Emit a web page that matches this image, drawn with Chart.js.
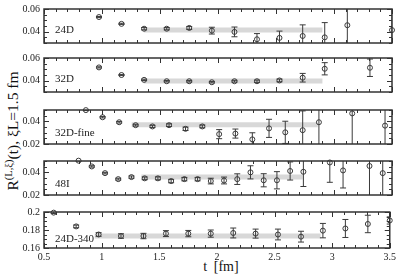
<!DOCTYPE html>
<html>
<head>
<meta charset="utf-8">
<script src="https://cdn.jsdelivr.net/npm/chart.js@4/dist/chart.umd.min.js"></script>
<style>
  body { margin: 0; background: #fff; width: 399px; height: 276px; position: relative; overflow: hidden; font-family: "Liberation Serif", serif; color: #111; }
  canvas { position: absolute; left: 0; }
  #ytitle { position: absolute; left: 13px; top: 131px; transform: translate(-50%, -50%) rotate(-90deg); white-space: nowrap; font-size: 15.5px; line-height: 16px; }
  #ytitle sup { font-size: 10.5px; line-height: 0; vertical-align: 6px; }
  #xtitle { position: absolute; left: 221px; top: 267px; transform: translate(-50%, -50%); white-space: nowrap; font-size: 14px; word-spacing: 3px; }
</style>
</head>
<body>
<div id="ytitle">R<sup>(L,ξ)</sup>(t), ξL=1.5 fm</div>
<div id="xtitle">t [fm]</div>
<script>
// x axis (t in fm)
const xTicks = [0.5, 1, 1.5, 2, 2.5, 3, 3.5];

// 24D
const t24 = [0.974, 1.168, 1.363, 1.558, 1.752, 1.947, 2.142, 2.336, 2.53, 2.73, 2.92, 3.115, 3.5];
const r24 = [0.0529, 0.0469, 0.0426, 0.0426, 0.0433, 0.0409, 0.0398, 0.0333, 0.0345, 0.0362, 0.035, 0.0457, 0.0414];
const e24 = [0.0005, 0.0005, 0.001, 0.001, 0.0013, 0.003, 0.0043, 0.005, 0.006, 0.0098, 0.013, 0.03, 0.03];
const fitT24 = [1.36, 2.9];
const fitR24 = 0.0415;

// 32D
const t32 = [0.974, 1.168, 1.363, 1.558, 1.752, 1.947, 2.142, 2.336, 2.53, 2.73, 2.92, 3.31];
const r32 = [0.0517, 0.045, 0.0407, 0.0395, 0.0395, 0.0386, 0.0395, 0.0395, 0.0402, 0.0426, 0.0505, 0.0514];
const e32 = [0.0005, 0.0005, 0.0006, 0.0006, 0.0007, 0.0006, 0.0008, 0.001, 0.0012, 0.0038, 0.0054, 0.0077];
const fitT32 = [1.36, 2.9];
const fitR32 = 0.0398;

// 32D-fine
const tFine = [0.861, 1.005, 1.148, 1.29, 1.435, 1.578, 1.72, 1.865, 2.01, 2.15, 2.296, 2.44, 2.58, 2.73, 2.87, 3.157, 3.44];
const rFine = [0.0499, 0.0436, 0.0392, 0.0366, 0.0355, 0.0366, 0.0334, 0.0355, 0.0287, 0.0292, 0.0241, 0.0338, 0.0303, 0.0322, 0.0392, 0.047, 0.0362];
const eFine = [0.0004, 0.0006, 0.0007, 0.0008, 0.001, 0.0012, 0.0015, 0.0012, 0.004, 0.004, 0.0058, 0.008, 0.0098, 0.017, 0.025, 0.03, 0.03];
const fitTFine = [1.256, 2.86];
const fitRFine = 0.0369;

// 48I
const t48 = [0.798, 0.912, 1.026, 1.14, 1.254, 1.368, 1.482, 1.596, 1.71, 1.824, 1.938, 2.052, 2.166, 2.28, 2.394, 2.508, 2.622, 2.736, 2.964, 3.078, 3.306, 3.42];
const r48 = [0.0503, 0.0452, 0.0393, 0.034, 0.0358, 0.0347, 0.0347, 0.0323, 0.034, 0.034, 0.0323, 0.0328, 0.034, 0.04, 0.033, 0.033, 0.0412, 0.0405, 0.0487, 0.0417, 0.0456, 0.0393];
const e48 = [0.0003, 0.0006, 0.0007, 0.0008, 0.001, 0.0012, 0.0013, 0.0015, 0.0015, 0.0015, 0.0025, 0.003, 0.0047, 0.0058, 0.0058, 0.0076, 0.008, 0.013, 0.0175, 0.0155, 0.03, 0.03];
const fitT48 = [1.34, 2.73];
const fitR48 = 0.0358;

// 24D-340
const t340 = [0.584, 0.779, 0.974, 1.168, 1.363, 1.558, 1.752, 1.947, 2.142, 2.336, 2.53, 2.73, 2.92, 3.115, 3.31, 3.5];
const r340 = [0.1993, 0.184, 0.175, 0.1733, 0.1733, 0.176, 0.176, 0.176, 0.1767, 0.176, 0.175, 0.1726, 0.1793, 0.1817, 0.1867, 0.1906];
const e340 = [0.001, 0.0015, 0.002, 0.0025, 0.003, 0.0033, 0.0035, 0.004, 0.0055, 0.005, 0.006, 0.006, 0.008, 0.01, 0.0097, 0.004];
const fitT340 = [0.94, 2.9];
const fitR340 = 0.1733;

Chart.defaults.font.family = '"Liberation Serif", serif';
Chart.defaults.font.size = 10;
Chart.defaults.color = '#222';

const INK = '#3a3a3a';

// frame with inward ticks, error bars and the panel name
const framePlugin = {
  id: 'frame',
  beforeDatasetDraw(chart, args) {
    const ds = chart.data.datasets[args.index];
    if (!ds.errors) return;
    const { ctx, chartArea: a, scales: { x, y } } = chart;
    ctx.save();
    ctx.beginPath();
    ctx.rect(a.left, a.top, a.right - a.left, a.bottom - a.top);
    ctx.clip();
    ctx.strokeStyle = INK;
    ctx.lineWidth = 1;
    ds.data.forEach((p, i) => {
      const px = x.getPixelForValue(p.x);
      const y1 = y.getPixelForValue(p.y + ds.errors[i]);
      const y2 = y.getPixelForValue(p.y - ds.errors[i]);
      ctx.beginPath();
      ctx.moveTo(px, y1); ctx.lineTo(px, y2);
      ctx.moveTo(px - 3, y1); ctx.lineTo(px + 3, y1);
      ctx.moveTo(px - 3, y2); ctx.lineTo(px + 3, y2);
      ctx.stroke();
    });
    ctx.restore();
  },
  afterDraw(chart, args, o) {
    const { ctx, chartArea: a, scales: { x, y } } = chart;
    ctx.save();
    ctx.strokeStyle = '#333';
    ctx.lineWidth = 1;
    ctx.beginPath();
    for (let k = 0; k <= 30; k++) {
      const px = Math.round(x.getPixelForValue(0.5 + k * 0.1)) + 0.5;
      const len = k % 5 === 0 ? 5 : 3;
      ctx.moveTo(px, a.top); ctx.lineTo(px, a.top + len);
      ctx.moveTo(px, a.bottom); ctx.lineTo(px, a.bottom - len);
    }
    const n = Math.round((y.max - y.min) / o.yMinor);
    for (let k = 0; k <= n; k++) {
      const v = y.min + k * o.yMinor;
      const py = Math.round(y.getPixelForValue(v)) + 0.5;
      const major = Math.abs(v / o.yMajor - Math.round(v / o.yMajor)) < 1e-6;
      const len = major ? 5 : 3;
      ctx.moveTo(a.left, py); ctx.lineTo(a.left + len, py);
      ctx.moveTo(a.right, py); ctx.lineTo(a.right - len, py);
    }
    ctx.stroke();
    ctx.lineWidth = 1.5;
    ctx.strokeRect(a.left, a.top, a.right - a.left, a.bottom - a.top);
    ctx.font = '11px "Liberation Serif", serif';
    ctx.fillStyle = '#222';
    ctx.textBaseline = 'middle';
    ctx.fillText(o.label, a.left + 11, a.bottom - o.labelUp);
    ctx.restore();
  }
};

function makePanel(top, bottom, yMin, yMax, yTicks, label, labelUp, t, r, e, fitT, fitR, showX) {
  const canvas = document.createElement('canvas');
  const padTop = 6, padBottom = showX ? 2 : 6, xAxisH = showX ? 14 : 0;
  const height = (bottom - top) + padTop + padBottom + xAxisH;
  canvas.width = 399;
  canvas.height = height;
  canvas.style.top = (top - padTop) + 'px';
  document.body.appendChild(canvas);

  new Chart(canvas.getContext('2d'), {
    type: 'scatter',
    data: {
      datasets: [
        {
          data: t.map((v, i) => ({ x: v, y: r[i] })),
          errors: e,
          pointStyle: 'circle',
          pointRadius: 2.5,
          pointBorderWidth: 1,
          borderColor: INK,
          backgroundColor: 'rgba(0,0,0,0)',
          clip: false,
          order: 1
        },
        {
          type: 'line',
          data: [{ x: fitT[0], y: fitR }, { x: fitT[1], y: fitR }],
          borderColor: '#d8d8d8',
          borderWidth: 5,
          pointRadius: 0,
          order: 2
        }
      ]
    },
    options: {
      responsive: false,
      animation: false,
      devicePixelRatio: 1,
      layout: { padding: { left: 0, right: 7, top: padTop, bottom: padBottom } },
      plugins: {
        legend: { display: false },
        tooltip: { enabled: false },
        frame: { label: label, labelUp: labelUp, yMinor: 0.005, yMajor: 0.02 }
      },
      scales: {
        x: {
          type: 'linear',
          min: 0.5,
          max: 3.5,
          display: showX,
          grid: { display: false, drawTicks: false },
          border: { display: false },
          afterBuildTicks: s => { s.ticks = xTicks.map(v => ({ value: v })); },
          afterFit: s => { s.height = xAxisH; },
          ticks: { padding: 3, autoSkip: false, maxRotation: 0, callback: v => String(v) }
        },
        y: {
          min: yMin,
          max: yMax,
          grid: { display: false, drawTicks: false },
          border: { display: false },
          afterBuildTicks: s => { s.ticks = yTicks.map(v => ({ value: v })); },
          afterFit: s => { s.width = 44; },
          ticks: { padding: 4, callback: v => String(v) }
        }
      }
    },
    plugins: [framePlugin]
  });
}

makePanel(5, 47, 0.03, 0.06, [0.04, 0.06], '24D', 13, t24, r24, e24, fitT24, fitR24, false);
makePanel(54, 96, 0.03, 0.06, [0.04, 0.06], '32D', 13, t32, r32, e32, fitT32, fitR32, false);
makePanel(106, 148, 0.02, 0.05, [0.02, 0.04], '32D-fine', 11, tFine, rFine, eFine, fitTFine, fitRFine, false);
makePanel(157, 199, 0.02, 0.05, [0.02, 0.04], '48I', 11, t48, r48, e48, fitT48, fitR48, false);
makePanel(208, 248, 0.16, 0.2, [0.16, 0.18, 0.2], '24D-340', 9, t340, r340, e340, fitT340, fitR340, true);
</script>
</body>
</html>
